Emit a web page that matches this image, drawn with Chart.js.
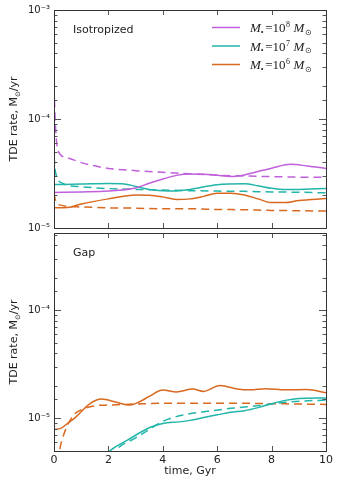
<!DOCTYPE html>
<html>
<head>
<meta charset="utf-8">
<script src="https://cdn.jsdelivr.net/npm/chart.js@4"></script>
<style>
  html, body { margin: 0; padding: 0; background: #fff; }
  #wrap { position: relative; width: 340px; height: 480px; }
  canvas { position: absolute; left: 0; }
</style>
</head>
<body>
<div id="wrap">
  <canvas id="topChart" width="340" height="238" style="top:0px"></canvas>
  <canvas id="bottomChart" width="340" height="257" style="top:223px"></canvas>
</div>
<script>
// time in Gyr, rate in Msun/yr
// --- Isotropized panel ---
const iso8SolidT = [0, 1, 2, 3, 3.5, 4, 4.5, 5, 5.5, 6, 6.5, 7, 7.5, 8, 8.7, 9.3, 10];
const iso8SolidV = [2.12e-5, 2.14e-5, 2.18e-5, 2.33e-5, 2.57e-5, 2.81e-5, 3.04e-5, 3.13e-5, 3.12e-5, 3.05e-5, 2.97e-5, 3.07e-5, 3.3e-5, 3.54e-5, 3.84e-5, 3.71e-5, 3.52e-5];
const iso8DashT = [0, 0.05, 0.15, 0.5, 1, 2, 3, 4, 5, 6, 7, 8, 9, 10];
const iso8DashV = [2.0e-4, 9e-5, 5.1e-5, 4.4e-5, 3.98e-5, 3.52e-5, 3.36e-5, 3.24e-5, 3.14e-5, 3.05e-5, 3.0e-5, 2.96e-5, 2.93e-5, 2.92e-5];

const iso7SolidT = [0, 1, 2, 2.5, 3, 3.5, 4, 4.5, 5, 6, 7, 7.5, 8, 8.5, 9, 10];
const iso7SolidV = [2.5e-5, 2.53e-5, 2.56e-5, 2.55e-5, 2.41e-5, 2.26e-5, 2.2e-5, 2.19e-5, 2.26e-5, 2.49e-5, 2.54e-5, 2.44e-5, 2.31e-5, 2.25e-5, 2.26e-5, 2.3e-5];
const iso7DashT = [0, 0.05, 0.3, 1, 2, 3, 4, 5, 6, 7, 8, 9, 10];
const iso7DashV = [4.6e-5, 3.3e-5, 2.58e-5, 2.39e-5, 2.3e-5, 2.26e-5, 2.23e-5, 2.2e-5, 2.18e-5, 2.17e-5, 2.14e-5, 2.13e-5, 2.1e-5];

const iso6SolidT = [0, 0.5, 1, 2, 3, 3.5, 4, 4.5, 5, 5.5, 6, 6.5, 7, 7.5, 8, 8.5, 9, 10];
const iso6SolidV = [1.53e-5, 1.54e-5, 1.66e-5, 1.85e-5, 2.01e-5, 2.0e-5, 1.93e-5, 1.83e-5, 1.85e-5, 1.95e-5, 2.08e-5, 2.08e-5, 2.01e-5, 1.85e-5, 1.71e-5, 1.71e-5, 1.79e-5, 1.86e-5];
const iso6DashT = [0, 0.05, 0.2, 1, 2, 3, 4, 5, 6, 7, 8, 9, 10];
const iso6DashV = [2.1e-5, 1.8e-5, 1.63e-5, 1.56e-5, 1.53e-5, 1.52e-5, 1.5e-5, 1.5e-5, 1.48e-5, 1.47e-5, 1.45e-5, 1.44e-5, 1.43e-5];

// --- Gap panel ---
const gap7SolidT = [1.8, 2.05, 2.7, 3.5, 4, 4.6, 5, 5.5, 6, 6.5, 7, 7.5, 8, 8.5, 9, 10];
const gap7SolidV = [4.2e-6, 5e-6, 6.3e-6, 8.2e-6, 9.0e-6, 9.3e-6, 9.6e-6, 1.02e-5, 1.08e-5, 1.14e-5, 1.18e-5, 1.26e-5, 1.37e-5, 1.47e-5, 1.53e-5, 1.55e-5];
const gap7DashT = [2.1, 2.25, 3, 3.5, 4, 4.7, 5.8, 6.5, 7.7, 8.5, 9.2, 10];
const gap7DashV = [4.3e-6, 5e-6, 6.6e-6, 7.9e-6, 9.4e-6, 1.07e-5, 1.18e-5, 1.24e-5, 1.33e-5, 1.41e-5, 1.45e-5, 1.48e-5];

const gap6SolidT = [0, 0.25, 0.5, 0.8, 1.3, 1.75, 2.3, 2.8, 3.2, 3.5, 4, 4.5, 5.1, 5.5, 6.1, 6.8, 7.2, 7.8, 8.5, 9.3, 10];
const gap6SolidV = [7.9e-6, 8.1e-6, 9.0e-6, 1.03e-5, 1.36e-5, 1.51e-5, 1.41e-5, 1.33e-5, 1.45e-5, 1.6e-5, 1.83e-5, 1.76e-5, 1.87e-5, 1.78e-5, 2.02e-5, 1.86e-5, 1.84e-5, 1.88e-5, 1.84e-5, 1.85e-5, 1.73e-5];
const gap6DashT = [0.08, 0.2, 0.35, 0.7, 1, 1.5, 2, 3, 4, 5, 6, 7, 8, 9, 10];
const gap6DashV = [3e-6, 5e-6, 7e-6, 1.06e-5, 1.2e-5, 1.31e-5, 1.33e-5, 1.36e-5, 1.38e-5, 1.38e-5, 1.38e-5, 1.38e-5, 1.37e-5, 1.36e-5, 1.35e-5];

const massExps = ['8', '7', '6'];
const xTickValues = [2, 4, 6, 8];

const PURPLE = '#c060dc', TEAL = '#22b5aa', ORANGE = '#d8691f';
const TEXT = '#222';

Chart.defaults.font.family = '"DejaVu Sans", sans-serif';

function pts(t, v) {
  return t.map((x, i) => ({ x: x, y: v[i] }));
}

function line(t, v, color, dashed) {
  return {
    data: pts(t, v),
    borderColor: color,
    borderWidth: 1.5,
    borderDash: dashed ? [8, 5] : [],
    pointRadius: 0,
    cubicInterpolationMode: 'monotone',
    fill: false
  };
}

function supText(n) {
  const map = { '-': '⁻', '0': '⁰', '1': '¹', '2': '²', '3': '³', '4': '⁴', '5': '⁵', '6': '⁶', '7': '⁷', '8': '⁸', '9': '⁹' };
  return String(n).split('').map(c => map[c]).join('');
}

function decadeLabel(v) {
  const e = Math.log10(v);
  if (Math.abs(e - Math.round(e)) < 1e-6) return '10' + supText(Math.round(e));
  return '';
}

// frame, inward ticks, panel label, y title, optional legend
function panelPlugin(label, withLegend) {
  return {
    id: 'panel',
    afterDraw(chart) {
      const ctx = chart.ctx, a = chart.chartArea;
      const xs = chart.scales.x, ys = chart.scales.y;
      ctx.save();

      // ticks
      ctx.strokeStyle = '#555';
      ctx.lineWidth = 1;
      ctx.beginPath();
      xTickValues.forEach(t => {
        const px = Math.round(xs.getPixelForValue(t)) + 0.5;
        ctx.moveTo(px, a.bottom); ctx.lineTo(px, a.bottom - 5);
        ctx.moveTo(px, a.top); ctx.lineTo(px, a.top + 5);
      });
      ys.ticks.forEach(tk => {
        const v = tk.value;
        if (v <= ys.min * 1.001 || v >= ys.max * 0.999) return;
        const e = Math.log10(v);
        const len = Math.abs(e - Math.round(e)) < 1e-6 ? 7 : 3.5;
        const py = Math.round(ys.getPixelForValue(v)) + 0.5;
        ctx.moveTo(a.left, py); ctx.lineTo(a.left + len, py);
        ctx.moveTo(a.right, py); ctx.lineTo(a.right - len, py);
      });
      ctx.stroke();

      // frame
      ctx.strokeStyle = '#333';
      ctx.strokeRect(Math.round(a.left) + 0.5, Math.round(a.top) + 0.5,
        Math.round(a.right - a.left), Math.round(a.bottom - a.top));

      // panel label
      ctx.fillStyle = TEXT;
      ctx.font = '11px "DejaVu Sans"';
      ctx.textBaseline = 'middle';
      ctx.textAlign = 'left';
      ctx.fillText(label, a.left + 19, a.top + 20);

      // y title with subscript sun
      const cy = (a.top + a.bottom) / 2;
      ctx.translate(13, cy);
      ctx.rotate(-Math.PI / 2);
      ctx.textBaseline = 'alphabetic';
      const big = '11px "DejaVu Sans"', small = '7px "DejaVu Sans"';
      const p1 = 'TDE rate, M', p2 = '⊙', p3 = '/yr';
      ctx.font = big; const w1 = ctx.measureText(p1).width, w3 = ctx.measureText(p3).width;
      ctx.font = small; const w2 = ctx.measureText(p2).width;
      let x = -(w1 + w2 + w3) / 2;
      ctx.font = big; ctx.fillText(p1, x, 4); x += w1;
      ctx.font = small; ctx.fillText(p2, x, 6.5); x += w2;
      ctx.font = big; ctx.fillText(p3, x, 4);
      ctx.setTransform(1, 0, 0, 1, 0, 0);

      if (withLegend) {
        const colors = [PURPLE, TEAL, ORANGE];
        const rows = [27.5, 46, 64.5];
        massExps.forEach((exp, i) => {
          const y = rows[i];
          ctx.strokeStyle = colors[i];
          ctx.lineWidth = 1.5;
          ctx.beginPath();
          ctx.moveTo(212, y); ctx.lineTo(240, y);
          ctx.stroke();
          ctx.fillStyle = TEXT;
          ctx.textBaseline = 'alphabetic';
          let tx = 250;
          const by = y + 4.5;
          const it = 'italic 13px "Liberation Serif"', rm = '13px "Liberation Serif"', sm = '8px "Liberation Serif"';
          ctx.font = it; ctx.fillText('M', tx, by); tx += ctx.measureText('M').width;
          ctx.font = sm; ctx.fillText('•', tx, by + 2.5); tx += ctx.measureText('•').width + 1.5;
          ctx.font = rm; ctx.fillText('=10', tx, by); tx += ctx.measureText('=10').width;
          ctx.font = sm; ctx.fillText(exp, tx + 0.5, by - 5); tx += ctx.measureText(exp).width + 4;
          ctx.font = it; ctx.fillText('M', tx, by); tx += ctx.measureText('M').width + 0.5;
          ctx.font = sm; ctx.fillText('⊙', tx, by + 2.5);
        });
      }
      ctx.restore();
    }
  };
}

function makeChart(id, datasets, yMin, yMax, label, withLegend, bottom) {
  const xScale = {
    type: 'linear',
    min: 0, max: 10,
    display: bottom,
    grid: { display: false, drawTicks: false },
    border: { display: false },
    ticks: { stepSize: 2, color: TEXT, font: { size: 11 }, padding: 3, maxRotation: 0 },
    title: { display: bottom, text: 'time, Gyr', color: TEXT, font: { size: 11 }, padding: { top: 0, bottom: 2 } }
  };
  if (bottom) xScale.afterFit = s => { s.height = 29; };
  return new Chart(document.getElementById(id), {
    type: 'line',
    data: { datasets: datasets },
    options: {
      responsive: false,
      animation: false,
      layout: { padding: bottom ? { left: 0, right: 14, top: 5, bottom: 0 } : { left: 0, right: 14, top: 10, bottom: 8 } },
      plugins: { legend: { display: false }, tooltip: { enabled: false } },
      scales: {
        x: xScale,
        y: {
          type: 'logarithmic',
          min: yMin, max: yMax,
          grid: { display: false, drawTicks: false },
          border: { display: false },
          ticks: { autoSkip: false, color: TEXT, font: { size: 10 }, padding: 4, callback: v => decadeLabel(v) },
          afterFit: s => { s.width = 54; }
        }
      }
    },
    plugins: [panelPlugin(label, withLegend)]
  });
}

makeChart('topChart', [
  line(iso8SolidT, iso8SolidV, PURPLE, false),
  line(iso8DashT, iso8DashV, PURPLE, true),
  line(iso7SolidT, iso7SolidV, TEAL, false),
  line(iso7DashT, iso7DashV, TEAL, true),
  line(iso6SolidT, iso6SolidV, ORANGE, false),
  line(iso6DashT, iso6DashV, ORANGE, true)
], 1e-5, 1e-3, 'Isotropized', true, false);

makeChart('bottomChart', [
  line(gap7SolidT, gap7SolidV, TEAL, false),
  line(gap7DashT, gap7DashV, TEAL, true),
  line(gap6SolidT, gap6SolidV, ORANGE, false),
  line(gap6DashT, gap6DashV, ORANGE, true)
], 5e-6, 5.2e-4, 'Gap', false, true);
</script>
</body>
</html>
